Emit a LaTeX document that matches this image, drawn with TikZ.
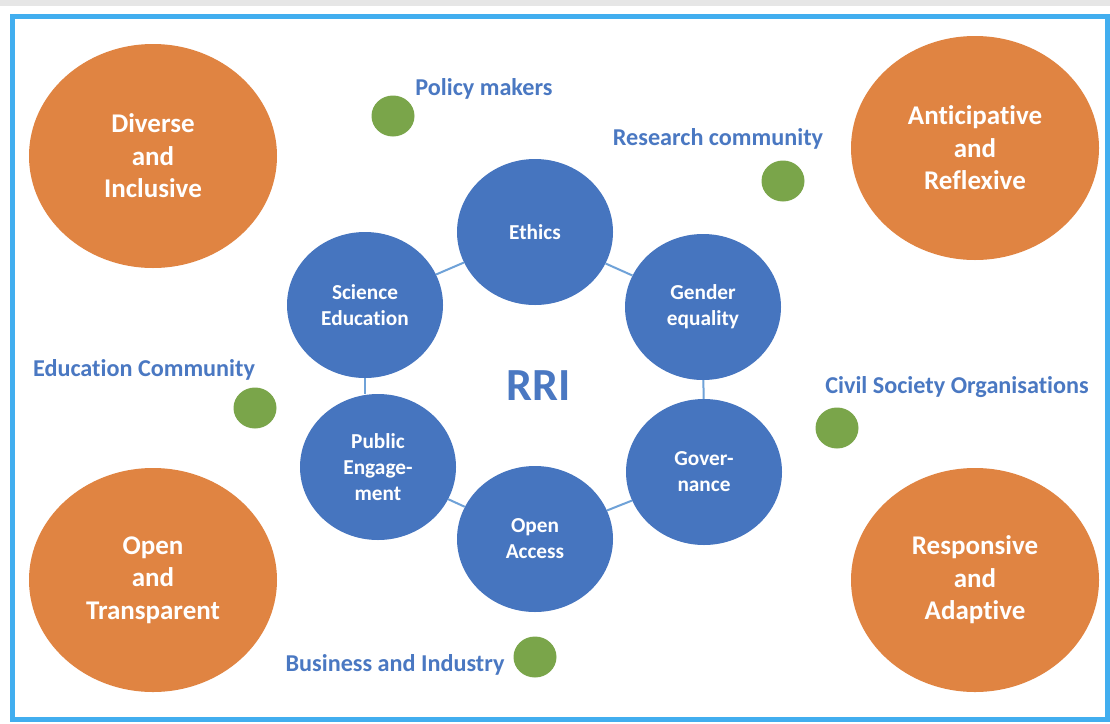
\documentclass[tikz,border=0pt]{standalone}
\usepackage{fontspec}
\setmainfont{Carlito}[Ligatures=NoCommon]
\usetikzlibrary{shapes.geometric}
\definecolor{frameblue}{HTML}{41AEEF}
\definecolor{orangefill}{HTML}{E08442}
\definecolor{bluefill}{HTML}{4675BF}
\definecolor{greenfill}{HTML}{7AA54A}
\definecolor{labelblue}{HTML}{4A78C2}
\definecolor{linkblue}{HTML}{6FA2D8}
\definecolor{topgray}{HTML}{E6E6E6}
\begin{document}
\begin{tikzpicture}[x=1pt,y=-1pt,
  value/.style={ellipse, fill=orangefill, minimum width=248pt, minimum height=224pt, inner sep=0pt, text=white, align=center, font=\fontsize{27}{32.5}\selectfont\bfseries},
  pillar/.style={ellipse, fill=bluefill, minimum width=156pt, minimum height=146pt, inner sep=0pt, text=white, align=center, font=\fontsize{21.3}{26}\selectfont\bfseries},
  actor/.style={ellipse, fill=greenfill, minimum width=43pt, minimum height=41pt, inner sep=0pt},
  actorlabel/.style={anchor=base, inner sep=0pt, text=labelblue, font=\fontsize{24.2}{28}\selectfont\bfseries},
  link/.style={draw=linkblue, line width=2pt}]
\useasboundingbox (0,0) rectangle (1110,723);
\fill[white] (0,0) rectangle (1110,723);
\fill[topgray] (0,0) rectangle (1110,6);
\draw[frameblue, line width=5pt] (12.5,16.5) rectangle (1107,719);

% value circles
\node[value] (div) at (153,156) {Diverse\\and\\Inclusive};
\node[value] (ant) at (975,148) {Anticipative\\and\\Reflexive};
\node[value] (opn) at (153,580) {Open\\and\\Transparent};
\node[value] (res) at (975,580) {Responsive\\and\\Adaptive};

% RRI pillars
\node[pillar] (eth) at (535,232) {Ethics};
\node[pillar] (gen) at (703,307) {Gender\\equality};
\node[pillar] (sci) at (365,305) {Science\\Education};
\node[pillar] (pub) at (378,467) {Public\\Engage-\\ment};
\node[pillar] (gov) at (704,472) {Gover-\\nance};
\node[pillar] (oa)  at (535,539) {Open\\Access};
\node[text=labelblue, font=\fontsize{46}{50}\selectfont\bfseries, inner sep=0pt] (rri) at (539,386) {RRI};

% connectors
\draw[link] (eth) -- (gen);
\draw[link] (eth) -- (sci);
\draw[link] (sci.south) -- (pub.north -| sci.south);
\draw[link] (pub) -- (oa);
\draw[link] (oa) -- (gov);
\draw[link] (gov) -- (gen);

% actors
\node[actor] (pmd) at (393,116) {};
\node[actor] (rcd) at (783,181) {};
\node[actor] (ecd) at (255,408) {};
\node[actor] (csd) at (837,428) {};
\node[actor] (bid) at (535,657) {};
\node[actorlabel] (pml) at (484,95) {Policy makers};
\node[actorlabel] (rcl) at (718,145) {Research community};
\node[actorlabel] (ecl) at (144,376) {Education Community};
\node[actorlabel] (csl) at (957,393) {Civil Society Organisations};
\node[actorlabel] (bil) at (395,671) {Business and Industry};
\end{tikzpicture}
\end{document}
